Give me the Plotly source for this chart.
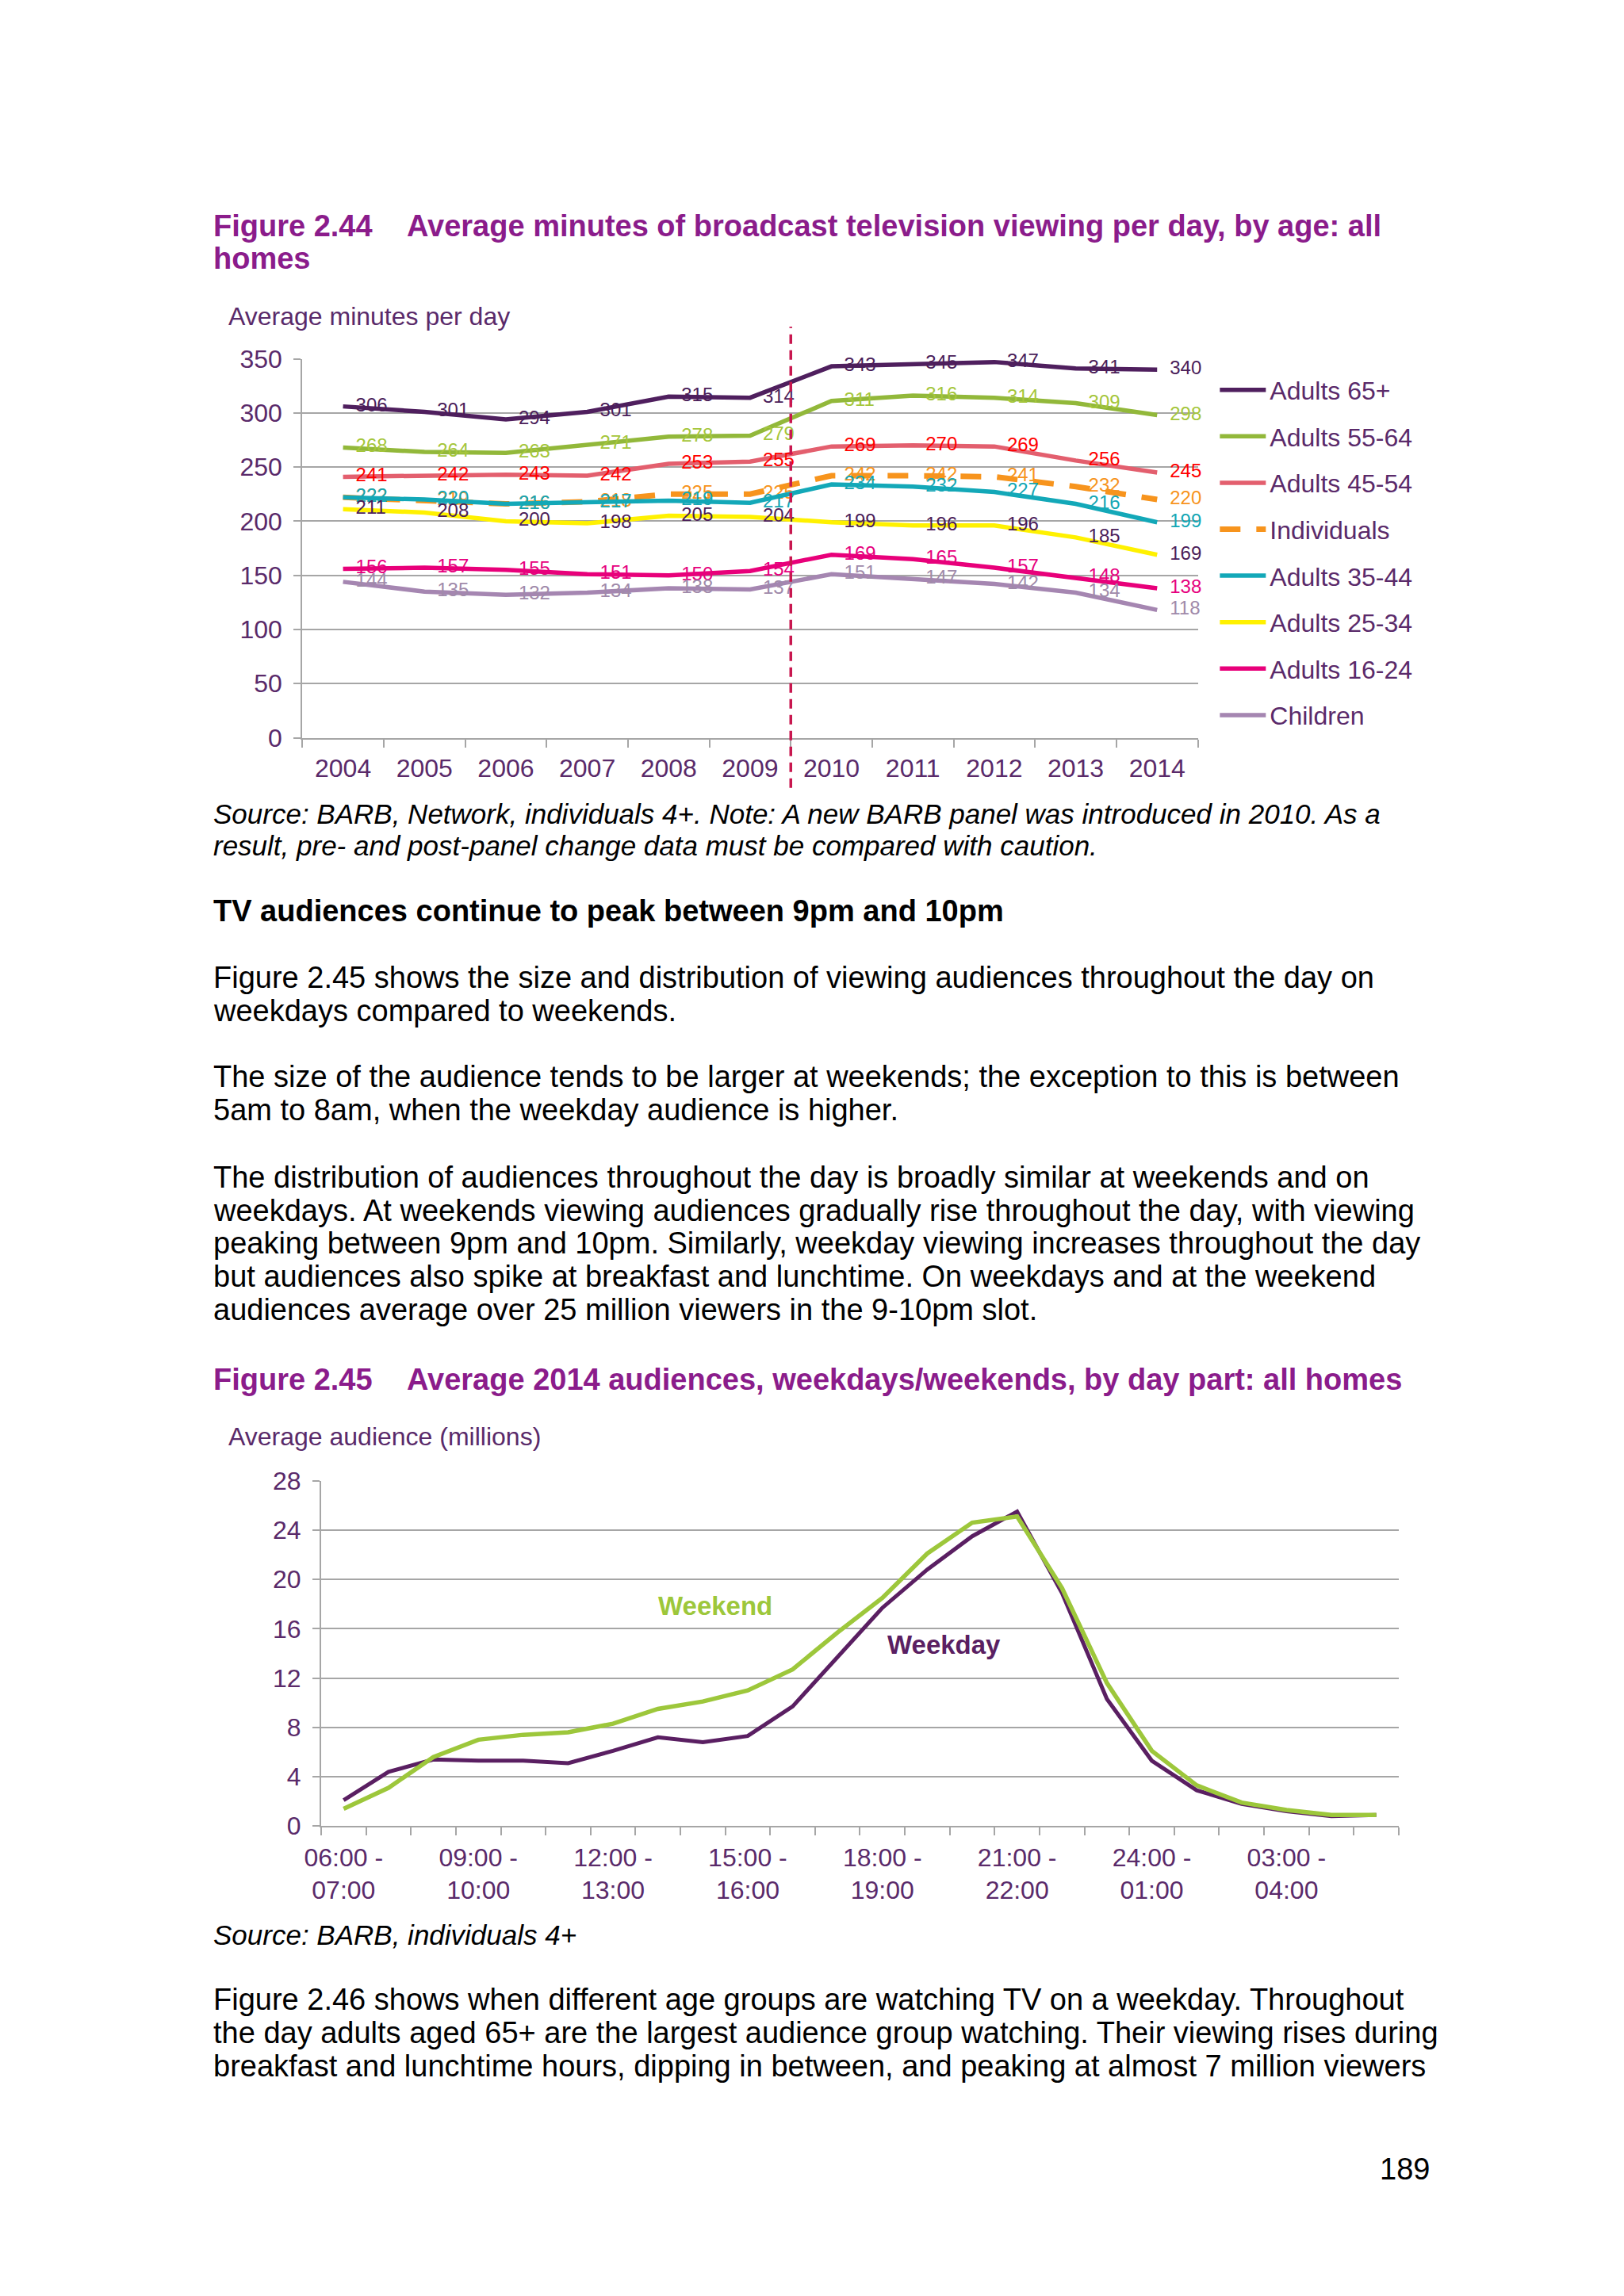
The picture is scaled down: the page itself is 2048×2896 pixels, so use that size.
import plotly.graph_objects as go

W, H = 2048, 2896

# ---------------- data: Figure 2.44 ----------------
years = ["2004", "2005", "2006", "2007", "2008", "2009", "2010", "2011", "2012", "2013", "2014"]
series_names = ["Adults 65+", "Adults 55-64", "Adults 45-54", "Individuals",
                "Adults 35-44", "Adults 25-34", "Adults 16-24", "Children"]
adults_65 = [306, 301, 294, 301, 315, 314, 343, 345, 347, 341, 340]
adults_55_64 = [268, 264, 263, 271, 278, 279, 311, 316, 314, 309, 298]
adults_45_54 = [241, 242, 243, 242, 253, 255, 269, 270, 269, 256, 245]
individuals = [222, 219, 216, 218, 225, 225, 242, 242, 241, 232, 220]
adults_35_44 = [222, 220, 216, 217, 219, 217, 234, 232, 227, 216, 199]
adults_25_34 = [211, 208, 200, 198, 205, 204, 199, 196, 196, 185, 169]
adults_16_24 = [156, 157, 155, 151, 150, 154, 169, 165, 157, 148, 138]
children = [144, 135, 132, 134, 138, 137, 151, 147, 142, 134, 118]

# ---------------- data: Figure 2.45 ----------------
day_parts = ["06:00 - 07:00", "07:00 - 08:00", "08:00 - 09:00", "09:00 - 10:00",
             "10:00 - 11:00", "11:00 - 12:00", "12:00 - 13:00", "13:00 - 14:00",
             "14:00 - 15:00", "15:00 - 16:00", "16:00 - 17:00", "17:00 - 18:00",
             "18:00 - 19:00", "19:00 - 20:00", "20:00 - 21:00", "21:00 - 22:00",
             "22:00 - 23:00", "23:00 - 24:00", "24:00 - 01:00", "01:00 - 02:00",
             "02:00 - 03:00", "03:00 - 04:00", "04:00 - 05:00", "05:00 - 06:00"]
day_part_ticks = ["06:00 -<br>07:00", "", "", "09:00 -<br>10:00", "", "",
                  "12:00 -<br>13:00", "", "", "15:00 -<br>16:00", "", "",
                  "18:00 -<br>19:00", "", "", "21:00 -<br>22:00", "", "",
                  "24:00 -<br>01:00", "", "", "03:00 -<br>04:00", "", ""]
weekday = [2.1, 4.4, 5.4, 5.3, 5.3, 5.1, 6.1, 7.2, 6.8, 7.3, 9.7, 13.7,
           17.7, 20.8, 23.5, 25.5, 18.9, 10.3, 5.3, 2.9, 1.8, 1.2, 0.8, 0.9]
weekend = [1.4, 3.1, 5.6, 7.0, 7.4, 7.6, 8.3, 9.5, 10.1, 11.0, 12.7, 15.7,
           18.5, 22.1, 24.6, 25.1, 19.3, 11.6, 6.1, 3.3, 1.9, 1.3, 0.9, 0.9]

# ---------------- styles ----------------
FONT = "Liberation Sans, Arial, sans-serif"
PURPLE_T = "#8B1C8B"
AXIS_T = "#5A2A6A"
GRID = "#A6A6A6"
line_colors = ["#4F1F5E", "#92B83A", "#E35F6E", "#F7941D", "#13A8B8", "#FFF100", "#E8007A", "#A586B1"]
label_colors = ["#4B1E5A", "#A5C63B", "#FF0000", "#F7941D", "#14A7B5", "#4B1E5A", "#E6007E", "#A08AAA"]
series_values = [adults_65, adults_55_64, adults_45_54, individuals,
                 adults_35_44, adults_25_34, adults_16_24, children]

def px_x(p):
    return p / W

def px_y(p):
    return 1 - p / H

fig = go.Figure()

for i, (name, vals) in enumerate(zip(series_names, series_values)):
    dash = "26px,20px" if name == "Individuals" else "solid"
    width = 7 if name == "Individuals" else 5.5
    fig.add_trace(go.Scatter(
        x=years, y=vals, name=name, mode="lines+markers+text",
        line=dict(color=line_colors[i], width=width, dash=dash),
        marker=dict(size=24, color="rgba(0,0,0,0)"),
        text=[str(v) for v in vals], textposition="middle right",
        textfont=dict(family=FONT, size=24, color=label_colors[i]),
        legendgroup=name, cliponaxis=False, hoverinfo="skip",
        xaxis="x", yaxis="y",
    ))

fig.add_trace(go.Scatter(x=day_parts, y=weekday, name="Weekday", mode="lines",
                         line=dict(color="#5A1F62", width=5), showlegend=False,
                         hoverinfo="skip", xaxis="x2", yaxis="y2"))
fig.add_trace(go.Scatter(x=day_parts, y=weekend, name="Weekend", mode="lines",
                         line=dict(color="#9DC73B", width=5.5), showlegend=False,
                         hoverinfo="skip", xaxis="x2", yaxis="y2"))

ann = []

def text(s, x, y, size=38, color="#000000", bold=False, italic=False, anchor="left"):
    t = s
    if bold:
        t = "<b>" + t + "</b>"
    if italic:
        t = "<i>" + t + "</i>"
    ann.append(dict(text=t, x=px_x(x), y=px_y(y), xref="paper", yref="paper",
                    xanchor=anchor, yanchor="middle", showarrow=False,
                    font=dict(family=FONT, size=size, color=color)))

L = 249
LS = 42.5
text("Figure 2.44", L, 270, color=PURPLE_T, bold=True)
text("Average minutes of broadcast television viewing per day, by age: all", 495, 270, color=PURPLE_T, bold=True)
text("homes", L, 312, color=PURPLE_T, bold=True)
text("Average minutes per day", 268, 386, size=32, color=AXIS_T)

text("Source: BARB, Network, individuals 4+. Note: A new BARB panel was introduced in 2010. As a", L, 1021, size=35, italic=True)
text("result, pre- and post-panel change data must be compared with caution.", L, 1062, size=35, italic=True)

text("TV audiences continue to peak between 9pm and 10pm", L, 1145, bold=True)

paras = [
    (1230, ["Figure 2.45 shows the size and distribution of viewing audiences throughout the day on",
            "weekdays compared to weekends."]),
    (1357, ["The size of the audience tends to be larger at weekends; the exception to this is between",
            "5am to 8am, when the weekday audience is higher."]),
    (1485, ["The distribution of audiences throughout the day is broadly similar at weekends and on",
            "weekdays. At weekends viewing audiences gradually rise throughout the day, with viewing",
            "peaking between 9pm and 10pm. Similarly, weekday viewing increases throughout the day",
            "but audiences also spike at breakfast and lunchtime. On weekdays and at the weekend",
            "audiences average over 25 million viewers in the 9-10pm slot."]),
    (2536, ["Figure 2.46 shows when different age groups are watching TV on a weekday. Throughout",
            "the day adults aged 65+ are the largest audience group watching. Their viewing rises during",
            "breakfast and lunchtime hours, dipping in between, and peaking at almost 7 million viewers"]),
]
for y0, lines in paras:
    for k, ln in enumerate(lines):
        text(ln, L, y0 + k * LS)

text("Figure 2.45", L, 1744, color=PURPLE_T, bold=True)
text("Average 2014 audiences, weekdays/weekends, by day part: all homes", 495, 1744, color=PURPLE_T, bold=True)
text("Average audience (millions)", 268, 1817, size=32, color=AXIS_T)
text("Source: BARB, individuals 4+", L, 2453, size=35, italic=True)
text("189", 1769, 2752, anchor="center")

ann.append(dict(text="<b>Weekend</b>", x=8.28, y=17.85, xref="x2", yref="y2", showarrow=False,
                font=dict(family=FONT, size=33, color="#9DC73B")))
ann.append(dict(text="<b>Weekday</b>", x=13.38, y=14.7, xref="x2", yref="y2", showarrow=False,
                font=dict(family=FONT, size=33, color="#5A1F62")))

axis_font = dict(family=FONT, size=32, color=AXIS_T)

fig.update_layout(
    width=W, height=H, margin=dict(l=0, r=0, t=0, b=0),
    paper_bgcolor="white", plot_bgcolor="white",
    annotations=ann,
    showlegend=True,
    hovermode=False,
    legend=dict(x=px_x(1528), y=px_y(452), xanchor="left", yanchor="top",
                font=dict(family=FONT, size=32, color=AXIS_T),
                itemwidth=58, tracegroupgap=14, bgcolor="rgba(0,0,0,0)",
                itemclick=False, itemdoubleclick=False),
    xaxis=dict(domain=[px_x(364), px_x(1505)], anchor="y", type="category",
               range=[-0.5, 10.5], tickson="boundaries", ticks="outside", ticklen=10,
               tickcolor=GRID, tickwidth=2, showline=True, linecolor=GRID, linewidth=2,
               showgrid=False, tickfont=axis_font, ticklabelstandoff=9, fixedrange=True),
    yaxis=dict(domain=[px_y(924), px_y(440)], anchor="x", range=[0, 350], dtick=50,
               showgrid=True, gridcolor=GRID, gridwidth=2, ticks="outside", ticklen=9,
               tickcolor=GRID, tickwidth=2, showline=True, linecolor=GRID, linewidth=2,
               zeroline=False, tickfont=axis_font, ticklabelstandoff=8, fixedrange=True),
    xaxis2=dict(domain=[px_x(388), px_x(1761)], anchor="y2", type="category",
                range=[-0.5, 23.5], tickmode="array", tickvals=day_parts, ticktext=day_part_ticks,
                tickson="boundaries", ticks="outside", ticklen=10, tickcolor=GRID, tickwidth=2,
                showline=True, linecolor=GRID, linewidth=2, showgrid=False, tickangle=0,
                tickfont=axis_font, ticklabelstandoff=10, fixedrange=True),
    yaxis2=dict(domain=[px_y(2314), px_y(1873)], anchor="x2", range=[0, 28], dtick=4,
                showgrid=True, gridcolor=GRID, gridwidth=2, ticks="outside", ticklen=9,
                tickcolor=GRID, tickwidth=2, showline=True, linecolor=GRID, linewidth=2,
                zeroline=False, tickfont=axis_font, ticklabelstandoff=8, fixedrange=True),
    # 2010 panel-change marker: between the 2009 and 2010 categories,
    # reaching above the plot and down through the year labels
    shapes=[dict(type="line", xref="x", yref="paper", x0=5.5, x1=5.5,
                 y0=px_y(988), y1=px_y(399),
                 line=dict(color="#C8174F", width=3.5, dash="12px,8px"))],
)

fig.write_html("out.html",
               config={"displayModeBar": False, "staticPlot": True},
               post_script="document.body.style.margin='0';document.body.style.overflow='hidden';"
                           "document.documentElement.style.overflow='hidden';")
